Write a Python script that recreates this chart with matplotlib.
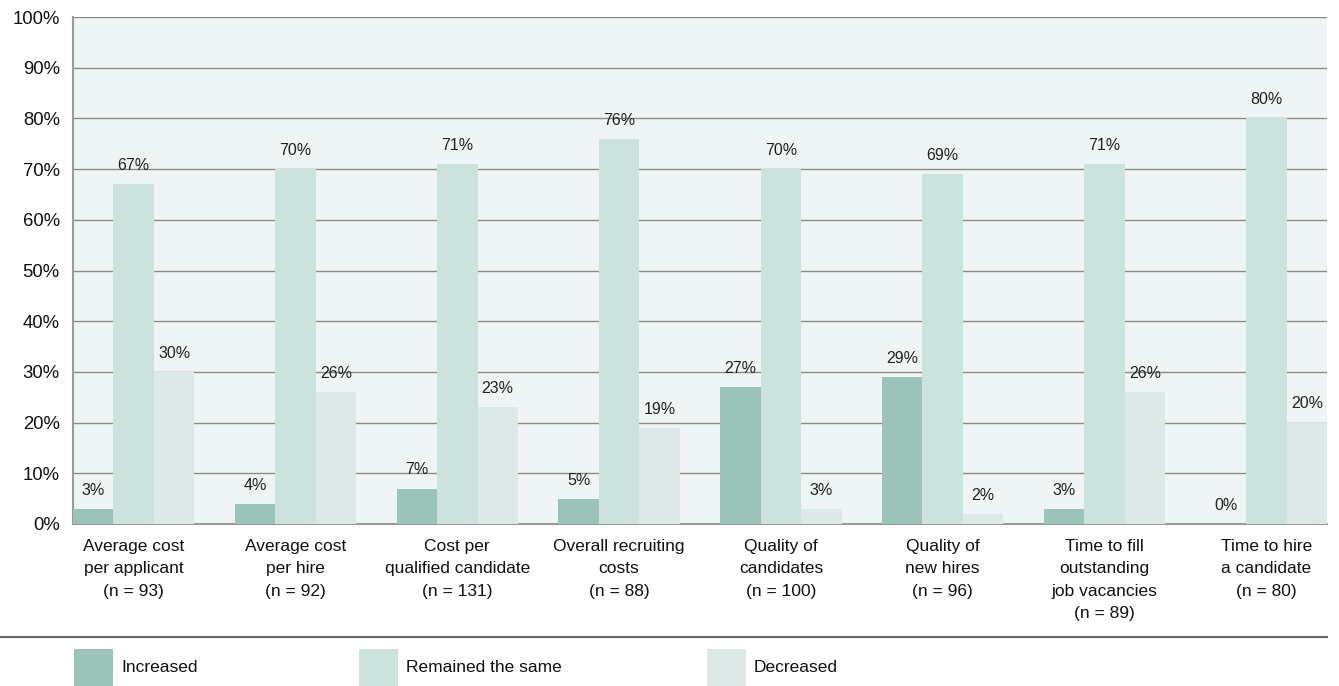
import matplotlib
matplotlib.use("Agg")
import matplotlib.pyplot as plt
from matplotlib.patches import Rectangle
from matplotlib.lines import Line2D
import numpy as np

plt.rcParams['font.family'] = ['Liberation Sans', 'DejaVu Sans']

categories = [
    "Average cost\nper applicant\n(n = 93)",
    "Average cost\nper hire\n(n = 92)",
    "Cost per\nqualified candidate\n(n = 131)",
    "Overall recruiting\ncosts\n(n = 88)",
    "Quality of\ncandidates\n(n = 100)",
    "Quality of\nnew hires\n(n = 96)",
    "Time to fill\noutstanding\njob vacancies\n(n = 89)",
    "Time to hire\na candidate\n(n = 80)",
]
series_names = ["Increased", "Remained the same", "Decreased"]
increased = [3, 4, 7, 5, 27, 29, 3, 0]
remained = [67, 70, 71, 76, 70, 69, 71, 80]
decreased = [30, 26, 23, 19, 3, 2, 26, 20]
yticks = [0, 10, 20, 30, 40, 50, 60, 70, 80, 90, 100]

colors = ["#9bc3ba", "#cce2dd", "#dce9e6"]
bg = "#eef5f4"

W, H = 1339, 686
fig = plt.figure(figsize=(W / 100, H / 100), dpi=100)
ax = fig.add_axes([73 / W, (H - 524) / H, 1254 / W, 507 / H])
ax.set_facecolor(bg)

n = len(categories)
group_pos = np.arange(n) * 4
series = [increased, remained, decreased]
for i, (vals, col) in enumerate(zip(series, colors)):
    xs = group_pos + i
    ax.bar(xs, vals, width=1.0, color=col, zorder=3, linewidth=0)
    for x, v in zip(xs, vals):
        ax.annotate(f"{v}%", (x, v), xytext=(0, 8), textcoords="offset points",
                    ha="center", va="bottom", fontsize=11.5, color="#222222", zorder=4)

ax.set_xlim(-0.5, group_pos[-1] + 2.5)
ax.set_ylim(0, 100)
ax.set_yticks(yticks)
ax.set_yticklabels([f"{t}%" for t in yticks], fontsize=13.3, color="#111111")
ax.set_xticks(group_pos + 1)
ax.set_xticklabels(categories, fontsize=12.5, color="#111111", linespacing=1.6, va="top")
ax.tick_params(axis="both", length=0)
ax.tick_params(axis="y", pad=9.5)
ax.tick_params(axis="x", pad=11)
ax.yaxis.grid(True, color="#8c8c8c", linewidth=1.0, zorder=1)
ax.set_axisbelow(True)
for s in ["top", "right"]:
    ax.spines[s].set_visible(False)
for s in ["left", "bottom"]:
    ax.spines[s].set_color("#9a9a9a")
    ax.spines[s].set_linewidth(1.5)

# separator line
fig.add_artist(Line2D([0, 1327 / W], [(H - 637) / H] * 2, color="#666666", linewidth=1.5))

# legend
leg_x = [74, 359, 707]
for x, name, col in zip(leg_x, series_names, colors):
    fig.add_artist(Rectangle((x / W, 0), 39 / W, 37 / H, transform=fig.transFigure,
                             facecolor=col, edgecolor="none"))
    fig.text((x + 47) / W, (H - 667) / H, name, fontsize=12.5, color="#111111", va="center", ha="left")

fig.savefig("out.png", dpi=100)
